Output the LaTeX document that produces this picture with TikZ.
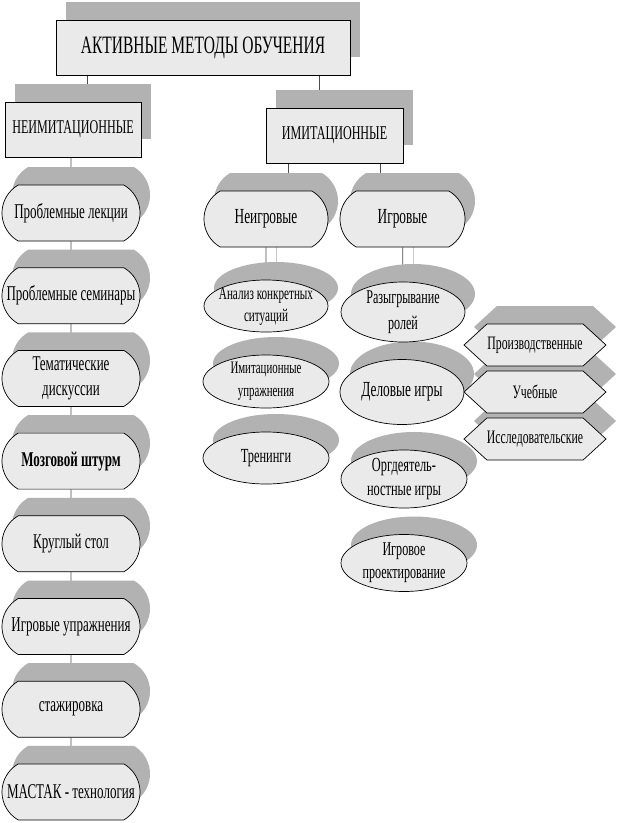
\documentclass[tikz,border=0pt]{standalone}
\usepackage{fontspec}
\setmainfont{Liberation Serif}[FakeStretch=0.62]
\usepackage{tikz}
\usetikzlibrary{shapes.misc,shapes.geometric,shapes.symbols,shadows,backgrounds}
\definecolor{boxfill}{RGB}{234,234,234}
\definecolor{shadegray}{RGB}{178,178,178}
\definecolor{lightline}{RGB}{200,200,200}

\begin{document}
\begin{tikzpicture}[x=1pt, y=-1pt, line width=0.7pt,
 shade box/.style={drop shadow={shadow xshift=10pt, shadow yshift=18pt, fill=shadegray, opacity=1}},
 main box/.style={rectangle, draw, fill=boxfill, shade box, inner sep=0pt, minimum height=55pt},
 cap node/.style={rounded rectangle, rounded rectangle arc length=120, draw, fill=boxfill, shade box, inner sep=0pt, align=center, minimum height=56pt},
 oval node/.style={ellipse, draw, fill=boxfill, shade box, inner xsep=-22pt, inner ysep=-8pt, align=center},
 hex node/.style={signal, signal to=west and east, signal pointer angle=85, draw, fill=boxfill, shade box, inner sep=0pt, minimum width=142pt, minimum height=42pt, font=\fontsize{19}{22}\selectfont},
 link/.style={draw=black!70, line width=0.7pt}]
\useasboundingbox (0,0) rectangle (619,823);
\node[main box, minimum width=294pt, font=\fontsize{25}{30}\selectfont] (1) at (203,47.5) {АКТИВНЫЕ МЕТОДЫ ОБУЧЕНИЯ};
\node[main box, minimum width=136pt, font=\fontsize{19.5}{24}\selectfont] (2) at (73,129.5) {НЕИМИТАЦИОННЫЕ};
\node[main box, minimum width=137pt, font=\fontsize{19.5}{24}\selectfont] (3) at (334.5,135.5) {ИМИТАЦИОННЫЕ};
\node[cap node, minimum width=138pt, font=\fontsize{21}{25}\selectfont] (4) at (71,213) {Проблемные лекции};
\node[cap node, minimum width=138pt, font=\fontsize{21}{25}\selectfont] (5) at (71,295.7) {Проблемные семинары};
\node[cap node, minimum width=138pt, font=\fontsize{21}{25}\selectfont] (6) at (71,378.4) {Тематические\\дискуссии};
\node[cap node, minimum width=138pt, font=\fontsize{21}{25}\selectfont\bfseries] (7) at (71,461.1) {Мозговой штурм};
\node[cap node, minimum width=138pt, font=\fontsize{21}{25}\selectfont] (8) at (71,543.8) {Круглый стол};
\node[cap node, minimum width=138pt, font=\fontsize{21}{25}\selectfont] (9) at (71,626.5) {Игровые упражнения};
\node[cap node, minimum width=138pt, font=\fontsize{21}{25}\selectfont] (10) at (71,709.2) {стажировка};
\node[cap node, minimum width=138pt, font=\fontsize{21}{25}\selectfont] (11) at (71,791.9) {МАСТАК - технология};
\node[cap node, minimum width=124pt, font=\fontsize{21.5}{24}\selectfont] (12) at (266,219) {Неигровые};
\node[cap node, minimum width=125pt, font=\fontsize{21.5}{24}\selectfont] (13) at (402.5,219) {Игровые};
\node[oval node, minimum width=126pt, minimum height=52pt, font=\fontsize{20}{23}\selectfont] (16) at (266,458) {Тренинги};
\node[oval node, minimum width=126pt, minimum height=53pt, font=\fontsize{17.5}{23}\selectfont] (15) at (266,381.5) {Имитационные\\упражнения};
\node[oval node, minimum width=124pt, minimum height=52pt, font=\fontsize{18}{22}\selectfont] (14) at (266,306) {Анализ конкретных\\ситуаций};
\node[oval node, minimum width=126pt, minimum height=57pt, font=\fontsize{19.5}{23}\selectfont] (20) at (404,563) {Игровое\\проектирование};
\node[oval node, minimum width=126pt, minimum height=58pt, font=\fontsize{20}{24}\selectfont] (19) at (404,479) {Оргдеятель-\\ностные игры};
\node[oval node, minimum width=124pt, minimum height=65pt, font=\fontsize{21.5}{24}\selectfont] (18) at (402,392) {Деловые игры};
\node[oval node, minimum width=124pt, minimum height=60pt, font=\fontsize{19.5}{26}\selectfont] (17) at (403,312) {Разыгрывание\\ролей};
\node[hex node] (23) at (535,439) {Исследовательские};
\node[hex node] (22) at (535,392) {Учебные};
\node[hex node] (21) at (535,345) {Производственные};
\begin{scope}[on background layer]
\coordinate (a) at ([xshift=14pt]2.center);
\coordinate (b) at ([xshift=-15.5pt]3.center);
\coordinate (c) at ([xshift=22pt]12.center);
\coordinate (d) at ([xshift=-22.5pt]13.center);
\coordinate (e) at ([xshift=10pt]14.center);
\coordinate (f) at ([xshift=10pt]17.center);
\path[link] (a) edge (a |- 1.center)
(b) edge (b |- 1.center)
(4) edge (4 |- 2.center)
(4) edge (5) (5) edge (6) (6) edge (7) (7) edge (8)
(8) edge (9) (9) edge (10) (10) edge (11)
(c) edge (c |- 3.center)
(d) edge (d |- 3.center)
(14) edge (12)
(17) edge (13);
\path[draw=lightline] (e) edge (e |- 12.center)
(f) edge (f |- 13.center);
\end{scope}
\end{tikzpicture}
\end{document}
